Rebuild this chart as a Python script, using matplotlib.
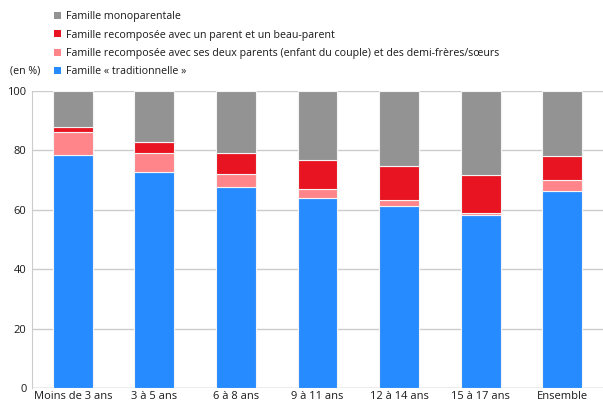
import matplotlib
matplotlib.use("Agg")
import matplotlib.pyplot as plt
from matplotlib.patches import Patch
import numpy as np

categories = ["Moins de 3 ans", "3 à 5 ans", "6 à 8 ans", "9 à 11 ans",
              "12 à 14 ans", "15 à 17 ans", "Ensemble"]
traditionnelle = [78.4, 72.8, 67.6, 63.9, 61.4, 58.2, 66.3]
recomp_deux_parents = [7.8, 6.4, 4.6, 3.0, 1.8, 0.7, 3.8]
recomp_beau_parent = [1.6, 3.6, 6.9, 10.0, 11.5, 12.8, 8.1]
monoparentale = [12.2, 17.2, 20.9, 23.1, 25.3, 28.3, 21.8]

series = [
    ("Famille « traditionnelle »", traditionnelle, "#268BFF"),
    ("Famille recomposée avec ses deux parents (enfant du couple) et des demi-frères/sœurs", recomp_deux_parents, "#FF858A"),
    ("Famille recomposée avec un parent et un beau-parent", recomp_beau_parent, "#E81421"),
    ("Famille monoparentale", monoparentale, "#939393"),
]

plt.rcParams['font.family'] = ['Open Sans', 'DejaVu Sans']
fig = plt.figure(figsize=(6.03, 4.01), dpi=100)
ax = fig.add_axes([32/603, 1 - 388/401, (603-32)/603, (388-91)/401])

x = np.arange(len(categories))
bottom = np.zeros(len(categories))
for label, vals, col in series:
    ax.bar(x, vals, width=0.49, bottom=bottom, color=col, edgecolor="#f4f4f4",
           linewidth=0.8, label=label, zorder=3)
    bottom += np.array(vals)

ax.set_xlim(-0.5, len(categories) - 0.5)
ax.set_ylim(0, 100)
ax.set_yticks([0, 20, 40, 60, 80, 100])
ax.yaxis.grid(True, color="#cccccc", linewidth=1, zorder=0)
ax.set_axisbelow(True)
for s in ["top", "right", "bottom"]:
    ax.spines[s].set_visible(False)
ax.spines["left"].set_color("#cccccc")
ax.axhline(0, color="#cccccc", linewidth=1, zorder=1)
ax.tick_params(axis="both", length=0, labelsize=8, colors="#1a1a1a", pad=4)
ax.set_xticks(x)
ax.set_xticklabels(categories)
ax.tick_params(axis="x", pad=2.5)

handles = [Patch(facecolor=c, label=l) for l, v, c in series[::-1]]
fig.legend(handles=handles, loc="upper left", bbox_to_anchor=(49/603, 1 - 6/401),
           frameon=False, fontsize=7.7, handlelength=0.65, handleheight=0.65,
           handletextpad=0.4, labelspacing=0.68, borderpad=0, labelcolor="#1a1a1a")
fig.text(10/603, 1 - 71/401, "(en %)", fontsize=7.7, va="center", ha="left", color="#1a1a1a")

fig.savefig("out.png", dpi=100)
